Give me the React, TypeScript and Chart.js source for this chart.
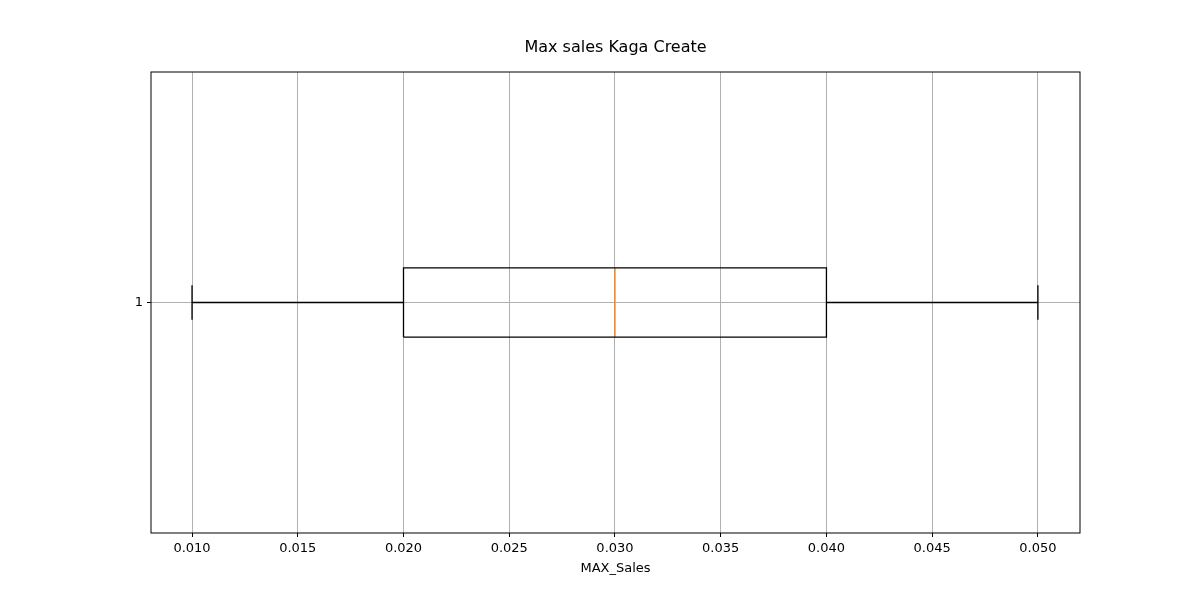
import React, { useEffect, useRef } from "react";
import { Chart, registerables } from "chart.js";

Chart.register(...registerables);

// box statistics for MAX_Sales
const whiskerLow = 0.01;
const q1 = 0.02;
const median = 0.03;
const q3 = 0.04;
const whiskerHigh = 0.05;
const category = 1;
const xTicks = [0.01, 0.015, 0.02, 0.025, 0.03, 0.035, 0.04, 0.045, 0.05];
const titleText = "Max sales Kaga Create";
const xTitle = "MAX_Sales";

const boxHalf = 0.075;
const capHalf = 0.0375;

// frame around the axes plus titles centred on the plot area
const frame = {
  id: "frame",
  afterDraw(chart: any) {
    const { ctx, chartArea: a } = chart;
    ctx.save();
    ctx.strokeStyle = "#000";
    ctx.lineWidth = 1;
    ctx.strokeRect(a.left, a.top, a.right - a.left, a.bottom - a.top);
    const cx = (a.left + a.right) / 2;
    ctx.fillStyle = "#000";
    ctx.textAlign = "center";
    ctx.textBaseline = "middle";
    ctx.font = "16px 'DejaVu Sans'";
    ctx.fillText(titleText, cx, 48);
    ctx.font = "13px 'DejaVu Sans'";
    ctx.fillText(xTitle, cx, 569);
    ctx.restore();
  },
};

export default function App() {
  const canvasRef = useRef<HTMLCanvasElement>(null);

  useEffect(() => {
    document.body.style.margin = "0";
    const line = (pts: number[][], color = "#000") => ({
      data: pts.map(([x, y]) => ({ x, y })),
      showLine: true,
      borderColor: color,
      borderWidth: 1.3,
      pointRadius: 0,
      fill: false,
    });
    const c = category;
    const chart = new Chart(canvasRef.current!, {
      type: "scatter",
      data: {
        datasets: [
          line([[q1, c - boxHalf], [q3, c - boxHalf], [q3, c + boxHalf], [q1, c + boxHalf], [q1, c - boxHalf]]),
          line([[whiskerLow, c], [q1, c]]),
          line([[q3, c], [whiskerHigh, c]]),
          line([[whiskerLow, c - capHalf], [whiskerLow, c + capHalf]]),
          line([[whiskerHigh, c - capHalf], [whiskerHigh, c + capHalf]]),
          line([[median, c - boxHalf], [median, c + boxHalf]], "#ff7f0e"),
        ] as any,
      },
      options: {
        responsive: false,
        animation: false,
        layout: { padding: { left: 0, right: 120, top: 72, bottom: 0 } },
        plugins: {
          legend: { display: false },
          tooltip: { enabled: false },
          title: { display: false },
        },
        scales: {
          x: {
            type: "linear",
            min: 0.00806,
            max: 0.05199,
            afterBuildTicks: (s: any) => { s.ticks = xTicks.map((v) => ({ value: v })); },
            afterFit: (s: any) => { s.height = 67; },
            ticks: {
              color: "#000",
              font: { family: "DejaVu Sans", size: 13 },
              callback: (v: any) => Number(v).toFixed(3),
              maxRotation: 0,
              padding: 4,
            },
            grid: { color: "#b0b0b0", tickColor: "#000", tickLength: 4 },
            border: { display: false },
          },
          y: {
            type: "linear",
            min: 0.5,
            max: 1.5,
            afterBuildTicks: (s: any) => { s.ticks = [{ value: category }]; },
            afterFit: (s: any) => { s.width = 151; },
            ticks: {
              color: "#000",
              font: { family: "DejaVu Sans", size: 13 },
              callback: (v: any) => String(v),
              padding: 4,
            },
            grid: { color: "#b0b0b0", tickColor: "#000", tickLength: 4 },
            border: { display: false },
          },
        },
      },
      plugins: [frame],
    });
    return () => chart.destroy();
  }, []);

  return (
    <div style={{ width: 1200, height: 600, background: "#fff" }}>
      <canvas ref={canvasRef} width={1200} height={600} />
    </div>
  );
}
